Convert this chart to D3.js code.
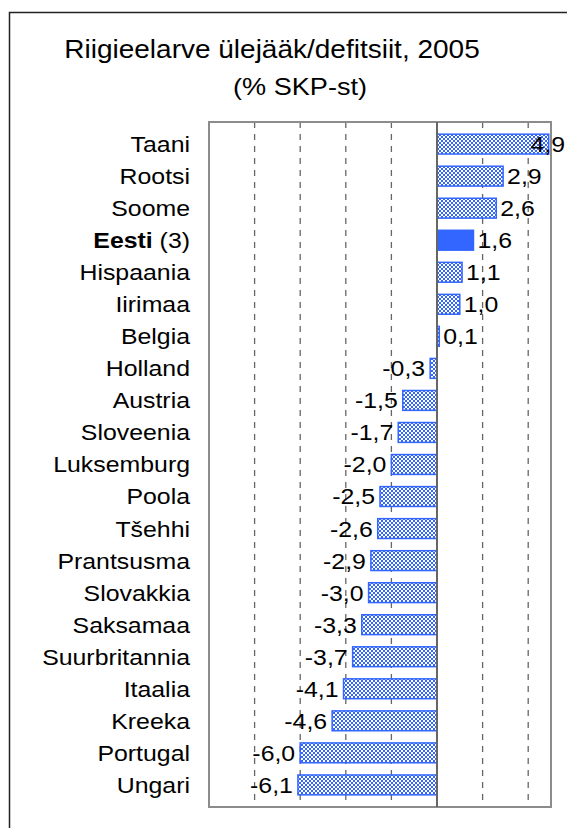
<!DOCTYPE html>
<html>
<head>
<meta charset="utf-8">
<script src="https://cdn.jsdelivr.net/npm/d3@7"></script>
<style>
    body { margin: 0; background: #fff; }
    svg { display: block; font-family: "Liberation Sans", Arial, sans-serif; }
</style>
</head>
<body>
<div id="chart"></div>
<script>
// data
var countries = ["Taani", "Rootsi", "Soome", "Eesti", "Hispaania", "Iirimaa", "Belgia",
    "Holland", "Austria", "Sloveenia", "Luksemburg", "Poola", "Tšehhi", "Prantsusma",
    "Slovakkia", "Saksamaa", "Suurbritannia", "Itaalia", "Kreeka", "Portugal", "Ungari"];
var balance = [4.9, 2.9, 2.6, 1.6, 1.1, 1.0, 0.1,
    -0.3, -1.5, -1.7, -2.0, -2.5, -2.6, -2.9,
    -3.0, -3.3, -3.7, -4.1, -4.6, -6.0, -6.1];
var highlight = ["Eesti"];
var xTicks = [-10, -8, -6, -4, -2, 0, 2, 4];

var W = 567, H = 828;
var margin = {top: 122, right: 16, bottom: 21, left: 209};
var width = W - margin.left - margin.right;
var height = H - margin.top - margin.bottom;
var blue = "#3366ff";
var sx = 1.13;   // the picture's text is a bit wider than plain Arial

var data = countries.map(function(c, i) { return {name: c, value: balance[i]}; });

function place(x, y) {
    return "translate(" + x + "," + y + ") scale(" + sx + ",1)";
}

var root = d3.select("#chart")
    .append("svg")
    .attr("width", W)
    .attr("height", H);

// checkered fill
var pat = root.append("defs").append("pattern")
    .attr("id", "checks")
    .attr("patternUnits", "userSpaceOnUse")
    .attr("width", 4)
    .attr("height", 4);
pat.append("rect").attr("width", 4).attr("height", 4).attr("fill", blue);
pat.append("rect").attr("x", 0).attr("y", 0).attr("width", 2).attr("height", 2).attr("fill", "#fff");
pat.append("rect").attr("x", 2).attr("y", 2).attr("width", 2).attr("height", 2).attr("fill", "#fff");

// outer frame (runs off the right and bottom edges)
root.append("rect")
    .attr("x", 9.5).attr("y", 12.5)
    .attr("width", 700).attr("height", 900)
    .attr("fill", "none")
    .attr("stroke", "#222")
    .attr("stroke-width", 1.5);

root.append("text")
    .attr("transform", "translate(272,58) scale(1.12,1)")
    .attr("text-anchor", "middle")
    .attr("font-size", 25)
    .text("Riigieelarve ülejääk/defitsiit, 2005");
root.append("text")
    .attr("transform", place(300, 95))
    .attr("text-anchor", "middle")
    .attr("font-size", 24)
    .text("(% SKP-st)");

var svg = root.append("g")
    .attr("transform", "translate(" + margin.left + "," + margin.top + ")");

var x = d3.scaleLinear()
    .domain([-10, 5])
    .range([0, width]);
var y = d3.scaleBand()
    .domain(countries)
    .range([0, height])
    .padding(0.38);

// dashed grid
svg.append("g")
    .selectAll("line")
    .data(xTicks.filter(function(t) { return t != 0 && t != -10; }))
    .enter().append("line")
    .attr("x1", function(d) { return x(d); })
    .attr("x2", function(d) { return x(d); })
    .attr("y1", 0).attr("y2", height)
    .attr("stroke", "#666")
    .attr("stroke-width", 1.3)
    .attr("stroke-dasharray", "6,6");

// plot border
svg.append("rect")
    .attr("x", 0).attr("y", 0)
    .attr("width", width).attr("height", height)
    .attr("fill", "none")
    .attr("stroke", "#8c8c8c")
    .attr("stroke-width", 2);

// bars
svg.append("g")
    .selectAll("rect")
    .data(data)
    .enter().append("rect")
    .attr("x", function(d) { return x(Math.min(0, d.value)); })
    .attr("y", function(d) { return y(d.name); })
    .attr("width", function(d) { return Math.abs(x(d.value) - x(0)); })
    .attr("height", y.bandwidth())
    .attr("fill", function(d) { return highlight.indexOf(d.name) >= 0 ? blue : "url(#checks)"; })
    .attr("stroke", blue)
    .attr("stroke-width", 1.5);

// zero line
svg.append("line")
    .attr("x1", x(0)).attr("x2", x(0))
    .attr("y1", 0).attr("y2", height)
    .attr("stroke", "#666")
    .attr("stroke-width", 2);

// value labels, pulled back inside the page when they would run off
var vals = svg.append("g")
    .selectAll("text")
    .data(data)
    .enter().append("text")
    .attr("dy", "0.36em")
    .attr("text-anchor", function(d) { return d.value < 0 ? "end" : "start"; })
    .attr("font-size", 22)
    .text(function(d) { return d3.format(".1f")(d.value).replace(".", ",").replace("−", "-"); });
vals.attr("transform", function(d) {
    var px;
    if (d.value < 0) {
        px = x(d.value) - 5;
    } else {
        var w = this.getComputedTextLength() * sx;
        px = Math.min(x(d.value) + 4, W - margin.left - 2 - w);
    }
    return place(px, y(d.name) + y.bandwidth() / 2);
});

// category labels
var lab = svg.append("g")
    .selectAll("text")
    .data(data)
    .enter().append("text")
    .attr("transform", function(d) { return place(-19, y(d.name) + y.bandwidth() / 2); })
    .attr("dy", "0.36em")
    .attr("text-anchor", "end")
    .attr("font-size", 22);
lab.filter(function(d) { return highlight.indexOf(d.name) < 0; })
    .text(function(d) { return d.name; });
var hl = lab.filter(function(d) { return highlight.indexOf(d.name) >= 0; });
hl.append("tspan").attr("font-weight", "bold").text(function(d) { return d.name; });
hl.append("tspan").text(" (3)");
</script>
</body>
</html>
